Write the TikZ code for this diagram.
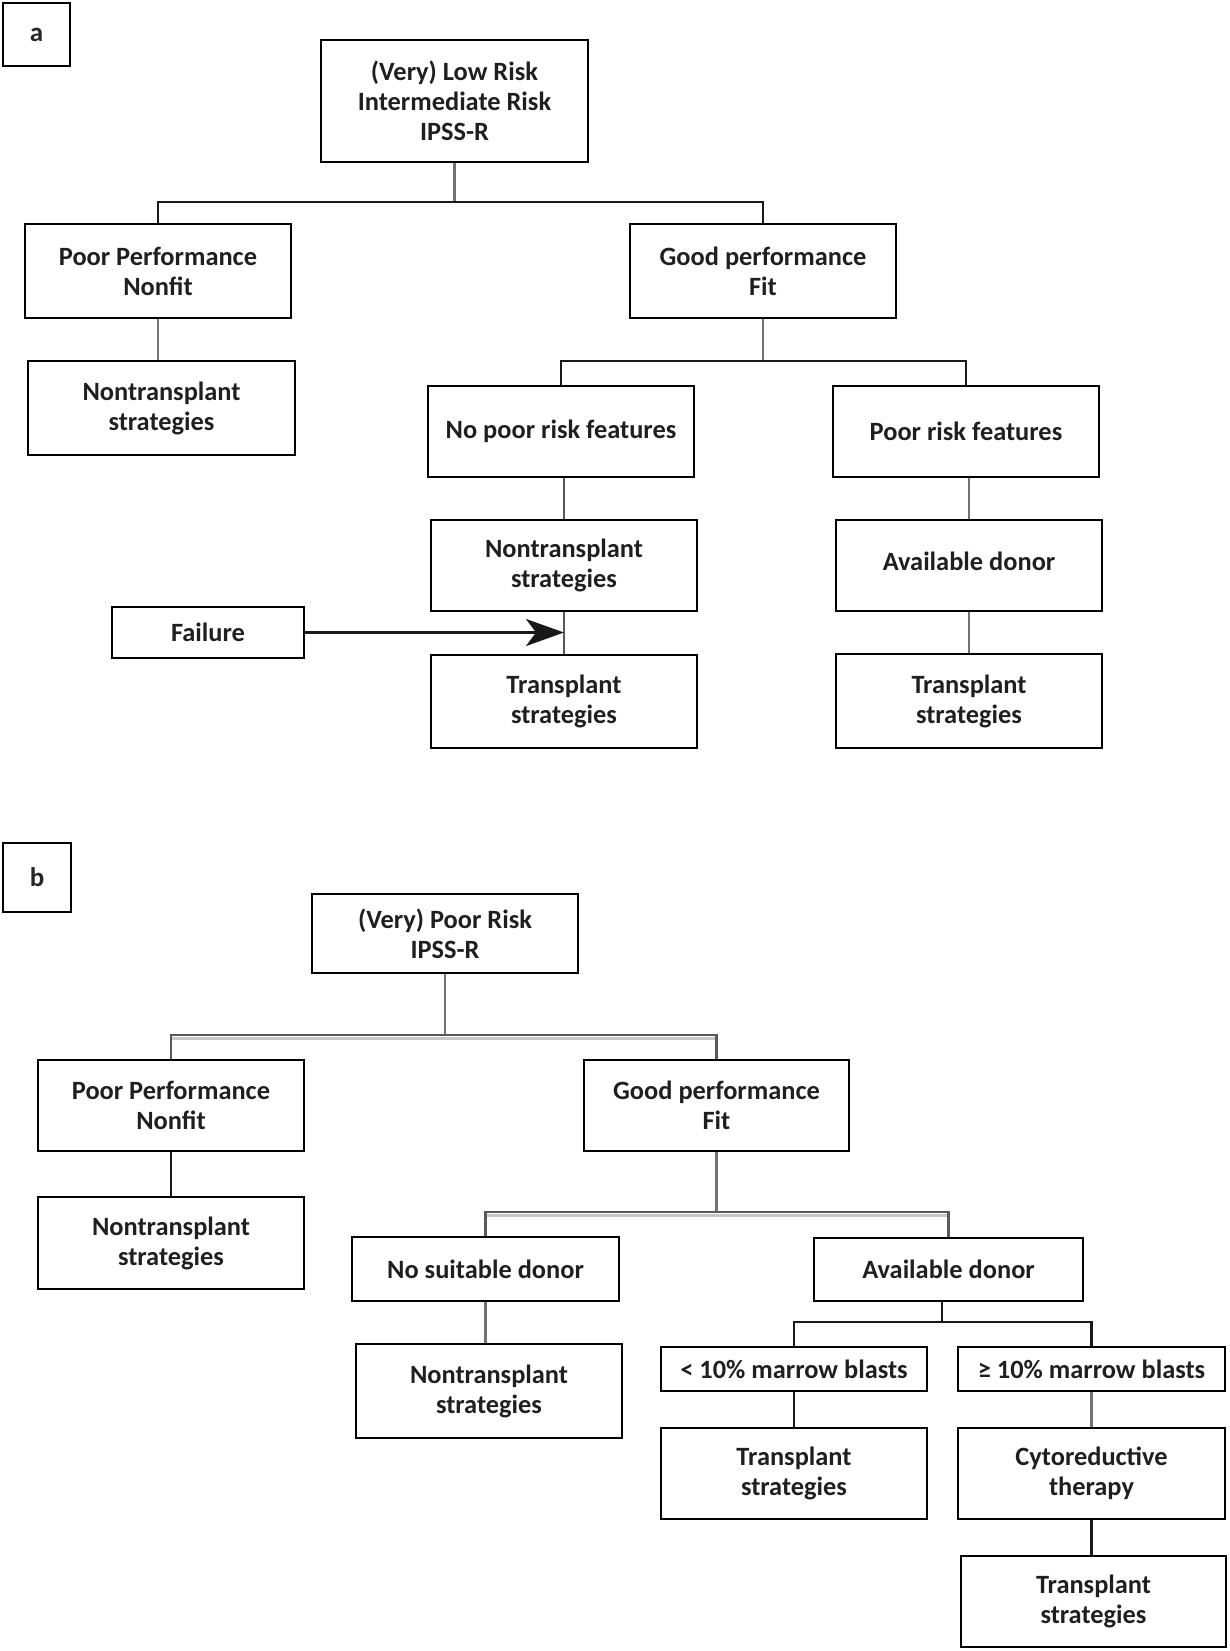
\documentclass[tikz,border=0pt]{standalone}
\usepackage{fontspec}
\setmainfont{Carlito}
\usetikzlibrary{arrows.meta,calc}
\tikzset{
  box/.style={draw, line width=1.3pt, rectangle, align=center, inner sep=0pt,
    font=\bfseries\fontsize{13.2}{15}\selectfont, text=black!88},
  lbl/.style={draw, line width=1.3pt, rectangle, inner sep=0pt,
    font=\bfseries\fontsize{13.5}{15}\selectfont, text=black!85},
  conn/.style={line width=1.2pt, black!90},
  gconn/.style={line width=1.1pt, black!55},
  dconn/.style={line width=1.2pt, black!65},
  shd/.style={line width=1.6pt, black!22},
}
\begin{document}
\begin{tikzpicture}[x=0.5pt,y=-0.5pt]
\useasboundingbox (0,0) rectangle (1230,1651);
% ---------- panel a ----------
\node[lbl, minimum width=33.5pt, minimum height=31.5pt] (la) at (36.5,34.5) {a};
\node[box, minimum width=133.5pt, minimum height=61pt] (A0) at (454.5,101) {(Very) Low Risk\\Intermediate Risk\\IPSS-R};
\node[box, minimum width=133pt, minimum height=47pt] (A1) at (158,271) {Poor Performance\\Nonfit};
\node[box, minimum width=133.5pt, minimum height=47pt] (A2) at (161.5,408) {Nontransplant\\strategies};
\node[box, minimum width=133pt, minimum height=47pt] (A3) at (763,271) {Good performance\\Fit};
\node[box, minimum width=133pt, minimum height=45.5pt] (A4) at (561,431.5) {No poor risk features};
\node[box, minimum width=133pt, minimum height=45.5pt] (A5) at (966,431.5) {Poor risk features};
\node[box, minimum width=133pt, minimum height=45.5pt] (A6) at (564,565.5) {Nontransplant\\strategies};
\node[box, minimum width=133pt, minimum height=46.5pt] (A7) at (564,701.5) {Transplant\\strategies};
\node[box, minimum width=133pt, minimum height=45.5pt, text depth=4pt] (A8) at (969,565.5) {Available donor};
\node[box, minimum width=133pt, minimum height=47pt] (A9) at (969,701) {Transplant\\strategies};
\node[box, minimum width=96pt, minimum height=25.5pt] (A10) at (208,632.5) {Failure};

\coordinate (ja) at (456,202);
\coordinate (jb) at (763,361);
\draw[gconn] (A0.south) -- (A0.south |- ja);
\draw[conn] (A1.north) |- (ja) -| (A3.north);
\draw[gconn] (A1.south) -- (A1.south |- A2.north);
\draw[gconn] (A3.south) -- (A3.south |- jb);
\draw[conn] (A4.north) |- (jb) -| (A5.north);
\draw[dconn] (A4.south -| A6.north) -- (A6.north);
\draw[dconn] (A6.south) -- (A7.north);
\draw[gconn] (A8.north |- A5.south) -- (A8.north);
\draw[gconn] (A8.south) -- (A9.north);
\coordinate (fa) at (A10.east -| A6.south);
\draw[conn, -{Stealth[length=19pt,width=13.5pt,inset=5pt]}] (A10.east) -- (fa);

% ---------- panel b ----------
\node[lbl, minimum width=34pt, minimum height=34.5pt] (lb) at (37,877.5) {b};
\node[box, minimum width=133pt, minimum height=39.5pt] (B0) at (445,933.5) {(Very) Poor Risk\\IPSS-R};
\node[box, minimum width=133pt, minimum height=45.5pt] (B1) at (171,1105.5) {Poor Performance\\Nonfit};
\node[box, minimum width=132.5pt, minimum height=45.5pt] (B2) at (716.5,1105.5) {Good performance\\Fit};
\node[box, minimum width=133pt, minimum height=46pt] (B3) at (171,1243) {Nontransplant\\strategies};
\node[box, minimum width=133.5pt, minimum height=32pt] (B4) at (485.5,1269) {No suitable donor};
\node[box, minimum width=134.5pt, minimum height=31.5pt] (B5) at (948.5,1269.5) {Available donor};
\node[box, minimum width=133pt, minimum height=47pt] (B6) at (489,1391) {Nontransplant\\strategies};
\node[box, minimum width=133pt, minimum height=22pt] (B7) at (794,1369) {< 10\% marrow blasts};
\node[box, minimum width=133.5pt, minimum height=22pt] (B8) at (1091.5,1369) {≥ 10\% marrow blasts};
\node[box, minimum width=133pt, minimum height=45.5pt] (B9) at (794,1473.5) {Transplant\\strategies};
\node[box, minimum width=133.5pt, minimum height=45.5pt] (B10) at (1091.5,1473.5) {Cytoreductive\\therapy};
\node[box, minimum width=132.5pt, minimum height=45.5pt] (B11) at (1093.5,1601.5) {Transplant\\strategies};

\coordinate (jc) at (446,1035);
\coordinate (jd) at (717,1212);
\coordinate (je) at (942,1322);
\draw[gconn] (B0.south) -- (B0.south |- jc);
\draw[shd] ($(B1.north |- jc)+(0,3.5)$) -- ($(B2.north |- jc)+(0,3.5)$);
\draw[dconn] (B1.north) |- (jc) -| (B2.north);
\draw[conn] (B1.south) -- (B3.north);
\draw[gconn] (B2.south) -- (B2.south |- jd);
\draw[shd] ($(B4.north |- jd)+(0,3.5)$) -- ($(B5.north |- jd)+(0,3.5)$);
\draw[dconn] (B4.north) |- (jd) -| (B5.north);
\draw[gconn] (B4.south) -- (B4.south |- B6.north);
\draw[conn] (B5.south -| je) -- (je);
\draw[conn] (B7.north) |- (je) -| (B8.north);
\draw[conn] (B7.south) -- (B9.north);
\draw[gconn] (B8.south) -- (B10.north);
\draw[conn] (B10.south) -- (B10.south |- B11.north);
\end{tikzpicture}
\end{document}
